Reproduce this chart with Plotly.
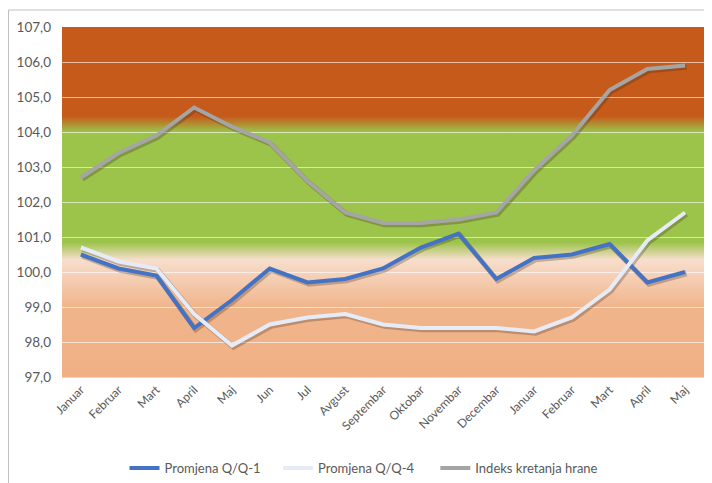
import base64
import plotly.graph_objects as go

# Mjeseci (dvije godine, januar - maj)
mjeseci = ["Januar", "Februar", "Mart", "April", "Maj", "Jun", "Jul", "Avgust",
           "Septembar", "Oktobar", "Novembar", "Decembar",
           "Januar", "Februar", "Mart", "April", "Maj"]
# unique keys so the repeated month names stay separate categories
x_keys = [f"{i}" for i in range(len(mjeseci))]

promjena_q1 = [100.5, 100.1, 99.9, 98.4, 99.2, 100.1, 99.7, 99.8, 100.1, 100.7,
               101.1, 99.8, 100.4, 100.5, 100.8, 99.7, 100.0]
promjena_q4 = [100.7, 100.3, 100.1, 98.8, 97.9, 98.5, 98.7, 98.8, 98.5, 98.4,
               98.4, 98.4, 98.3, 98.7, 99.5, 100.9, 101.7]
indeks_hrane = [102.7, 103.4, 103.9, 104.7, 104.15, 103.7, 102.6, 101.7, 101.4, 101.4,
                101.5, 101.7, 102.9, 103.9, 105.2, 105.8, 105.9]

y_ticks = [97, 98, 99, 100, 101, 102, 103, 104, 105, 106, 107]

serije = [
    ("Promjena Q/Q-1", promjena_q1, "#4472C4", "legend"),
    ("Promjena Q/Q-4", promjena_q4, "#E6ECF7", "legend"),
    ("Indeks kretanja hrane", indeks_hrane, "#A5A5A5", "legend2"),
]

# background gradient (style only)
stops = [(0.0, "rgb(197,90,26)"), (0.255, "rgb(197,90,26)"), (0.30, "rgb(156,195,74)"),
         (0.615, "rgb(156,195,74)"), (0.665, "rgb(247,222,204)"), (0.80, "rgb(240,181,140)"),
         (1.0, "rgb(240,176,132)")]
stop_tags = "".join(f'<stop offset="{o}" stop-color="{c}"/>' for o, c in stops)
svg = ('<svg xmlns="http://www.w3.org/2000/svg" width="100" height="100" viewBox="0 0 100 100" '
       'preserveAspectRatio="none"><defs><linearGradient id="g" x1="0" y1="0" x2="0" y2="1">'
       + stop_tags + '</linearGradient></defs><rect width="100" height="100" fill="url(#g)"/></svg>')
bg_src = "data:image/svg+xml;base64," + base64.b64encode(svg.encode()).decode()

fig = go.Figure()

# transparent copy on the main axes so the grid / tick labels get drawn
fig.add_trace(go.Scatter(x=x_keys, y=indeks_hrane, mode="lines", opacity=0,
                         line=dict(width=0), showlegend=False, hoverinfo="skip"))

# drop shadows (drawn on a slightly shifted overlay axis)
for name, vals, color, leg in serije:
    fig.add_trace(go.Scatter(x=x_keys, y=vals, mode="lines", xaxis="x2", yaxis="y2",
                             line=dict(color="rgba(60,40,30,0.28)", width=5),
                             showlegend=False, hoverinfo="skip"))

for name, vals, color, leg in serije:
    fig.add_trace(go.Scatter(x=x_keys, y=vals, mode="lines", name=name, xaxis="x3", yaxis="y3",
                             legend=leg, line=dict(color=color, width=4)))

font_fam = "Lato, 'Open Sans', sans-serif"
n = len(mjeseci)
hidden = dict(visible=False, showgrid=False, zeroline=False)
leg_style = dict(orientation="h", xref="container", yref="container", xanchor="left",
                 y=0.0632, yanchor="top", font=dict(size=13, color="#595959"),
                 bgcolor="rgba(0,0,0,0)")

# page body has an 8px margin, so the figure is a bit smaller than the window
fig.update_layout(
    width=704, height=475,
    margin=dict(l=54, r=8, t=19, b=106, autoexpand=False),
    paper_bgcolor="white",
    plot_bgcolor="rgba(0,0,0,0)",
    separators=",.",
    font=dict(family=font_fam, color="#595959", size=12),
    showlegend=True,
    legend=dict(x=0.1655, entrywidth=108.5, **leg_style),
    legend2=dict(x=0.607, **leg_style),
    images=[dict(source=bg_src, xref="paper", yref="paper", x=0, y=1, sizex=1, sizey=1,
                 xanchor="left", yanchor="top", sizing="stretch", layer="below")],
    shapes=[dict(type="rect", xref="paper", yref="paper", x0=-0.0833, x1=1.03, y0=-0.33, y1=1.0486,
                 line=dict(color="#BFBFBF", width=1), fillcolor="rgba(0,0,0,0)")],
    xaxis=dict(type="category", tickmode="array", tickvals=x_keys, ticktext=mjeseci,
               tickangle=-45, showgrid=False, showline=True, linecolor="#D9D9D9",
               tickfont=dict(size=12, color="#595959"), range=[-0.5, n - 0.5]),
    yaxis=dict(range=[97, 107], tickvals=y_ticks, tickformat=".1f",
               showgrid=True, gridcolor="rgba(255,255,255,0.6)", gridwidth=1,
               zeroline=False, showline=False, ticklabelstandoff=10,
               tickfont=dict(size=13.5, color="#595959")),
    xaxis2=dict(type="category", overlaying="x", range=[-0.5 - 0.04, n - 0.5 - 0.04], **hidden),
    yaxis2=dict(overlaying="y", range=[97 + 0.05, 107 + 0.05], **hidden),
    xaxis3=dict(type="category", overlaying="x", range=[-0.5, n - 0.5], **hidden),
    yaxis3=dict(overlaying="y", range=[97, 107], **hidden),
)

fig.write_html("out.html")
